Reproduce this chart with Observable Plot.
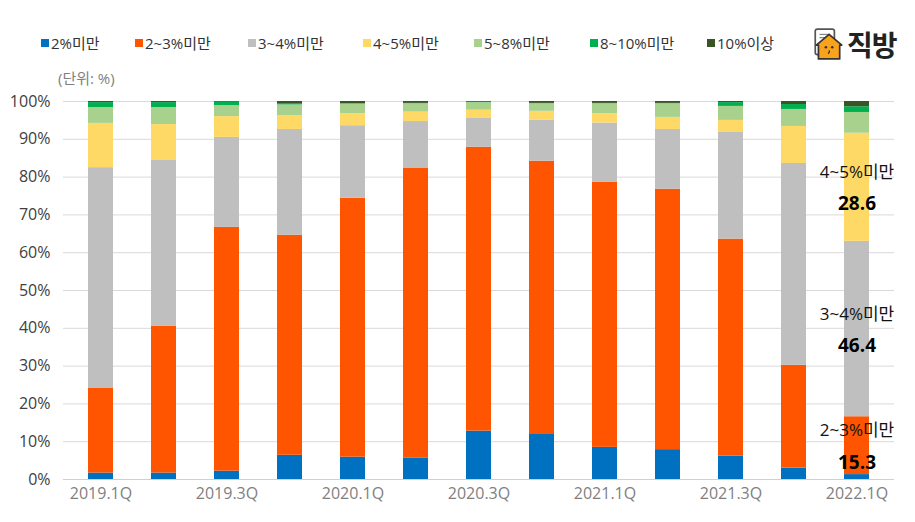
<!DOCTYPE html>
<html><head><meta charset="utf-8">
<script src="https://cdn.jsdelivr.net/npm/d3@7"></script>
<script src="https://cdn.jsdelivr.net/npm/@observablehq/plot@0.6"></script>
<style>
html,body{margin:0;padding:0;background:#fff;}
body{width:915px;height:522px;position:relative;overflow:hidden;font-family:'Open Sans','Noto Sans CJK KR',sans-serif;}
#chart{position:absolute;left:0;top:0;}
.leg{position:absolute;top:33px;font-size:15px;color:#333;display:flex;align-items:center;white-space:nowrap;line-height:20px;}
.leg i{display:inline-block;width:8px;height:8px;margin-right:2px;}
#unit{position:absolute;left:58px;top:67px;font-size:15px;color:#7f7f7f;}
#logo{position:absolute;left:812px;top:24px;display:flex;align-items:center;}
#logo span{font-family:'Noto Sans CJK KR',sans-serif;font-size:28px;font-weight:bold;color:#222;margin-left:3px;letter-spacing:-1px;}
</style></head>
<body>
<div id="chart"></div>
<div id="legend"></div>
<div id="unit">(단위: %)</div>
<div id="logo">
<svg width="32" height="34" viewBox="0 0 30 32">
<rect x="3" y="2" width="18" height="24" rx="2" fill="#fff" stroke="#555" stroke-width="1.6"/>
<line x1="7" y1="7" x2="17" y2="7" stroke="#888" stroke-width="1.2"/>
<line x1="7" y1="10" x2="17" y2="10" stroke="#888" stroke-width="1.2"/>
<path d="M4 17 L16 7 L28 17 L26 17 L26 30 L6 30 L6 17 Z" fill="#F9A21B" stroke="#333" stroke-width="1.6" stroke-linejoin="round"/>
<circle cx="13" cy="19" r="1.2" fill="#333"/><circle cx="19" cy="19" r="1.2" fill="#333"/>
<path d="M16 22 q1 2 -1 3" stroke="#333" stroke-width="1.2" fill="none"/>
</svg><span>직방</span></div>
<script>
const quarters = ["2019.1Q","2019.2Q","2019.3Q","2019.4Q","2020.1Q","2020.2Q","2020.3Q","2020.4Q","2021.1Q","2021.2Q","2021.3Q","2021.4Q","2022.1Q"];
const seriesNames = ["2%미만","2~3%미만","3~4%미만","4~5%미만","5~8%미만","8~10%미만","10%이상"];
const seriesColors = ["#0070C0","#FF5500","#BFBFBF","#FFD966","#A9D18E","#00B050","#375623"];
const s1 = [1.7,1.7,2.2,6.4,5.9,5.6,12.8,11.9,8.5,7.9,6.2,3.0,1.3];
const s2 = [22.5,38.8,64.5,58.2,68.5,76.8,75.1,72.3,70.1,68.9,57.4,27.2,15.3];
const s3 = [58.3,43.9,23.8,28.0,19.2,12.3,7.6,10.8,15.7,15.8,28.2,53.4,46.4];
const s4 = [11.7,9.5,5.5,3.7,3.2,2.5,2.2,2.4,2.5,3.2,3.2,9.8,28.6];
const s5 = [4.2,4.5,2.9,2.8,2.5,2.2,2.0,2.0,2.6,3.6,3.7,4.5,5.5];
const s6 = [1.3,1.3,0.9,0.2,0.1,0.1,0.1,0.1,0.1,0.1,1.0,1.3,1.5];
const s7 = [0.3,0.3,0.2,0.7,0.6,0.5,0.2,0.5,0.5,0.5,0.3,0.8,1.4];
const xTickLabels = ["2019.1Q","2019.3Q","2020.1Q","2020.3Q","2021.1Q","2021.3Q","2022.1Q"];
const yTicks = [0,10,20,30,40,50,60,70,80,90,100];
const annotated = ["2~3%미만","3~4%미만","4~5%미만"];

const seriesValues = [s1,s2,s3,s4,s5,s6,s7];
const data = [];
seriesNames.forEach((s,i)=>quarters.forEach((q,j)=>data.push({q, s, v: seriesValues[i][j]})));

// annotation midpoints for the last quarter
const last = quarters.length-1;
const ann = [];
let cum = 0;
seriesNames.forEach((s,i)=>{
  const v = seriesValues[i][last];
  if (annotated.includes(s)) ann.push({q: quarters[last], s, v, mid: cum + v/2});
  cum += v;
});

const font = "'Open Sans','Noto Sans CJK KR',sans-serif";
const chart = Plot.plot({
  width: 915, height: 522,
  marginTop: 101, marginBottom: 43, marginLeft: 63, marginRight: 21,
  style: {fontFamily: font, background: "transparent"},
  x: {domain: quarters, paddingInner: 0.6, paddingOuter: 0.3, label: null},
  y: {domain: [0,100], label: null},
  color: {domain: seriesNames, range: seriesColors},
  marks: [
    Plot.gridY(yTicks, {stroke: "#d9d9d9", strokeOpacity: 1}),
    Plot.ruleY([0], {stroke: "#d0d0d0"}),
    Plot.barY(data, {x: "q", y: "v", fill: "s", order: seriesNames}),
    Plot.axisY(yTicks, {tickSize: 0, tickPadding: 13, tickFormat: d => d + "%", fontSize: 16, fill: "#404040", label: null}),
    Plot.axisX(xTickLabels, {tickSize: 0, tickPadding: 8, fontSize: 16, fill: "#7f7f7f", label: null}),
    Plot.text(ann, {x: "q", y: "mid", text: "s", dy: -15, fontSize: 17, fill: "#111"}),
    Plot.text(ann, {x: "q", y: "mid", text: d => d.v.toFixed(1), dy: 17, fontSize: 19, fontWeight: "bold", fill: "#000"})
  ]
});
document.getElementById("chart").appendChild(chart);

const legLeft = [41,135,248,363,474,590,707];
const legend = document.getElementById("legend");
seriesNames.forEach((s,i)=>{
  const d = document.createElement("div");
  d.className = "leg";
  d.style.left = legLeft[i] + "px";
  d.innerHTML = `<i style="background:${seriesColors[i]}"></i>${s}`;
  legend.appendChild(d);
});
</script>
</body></html>
